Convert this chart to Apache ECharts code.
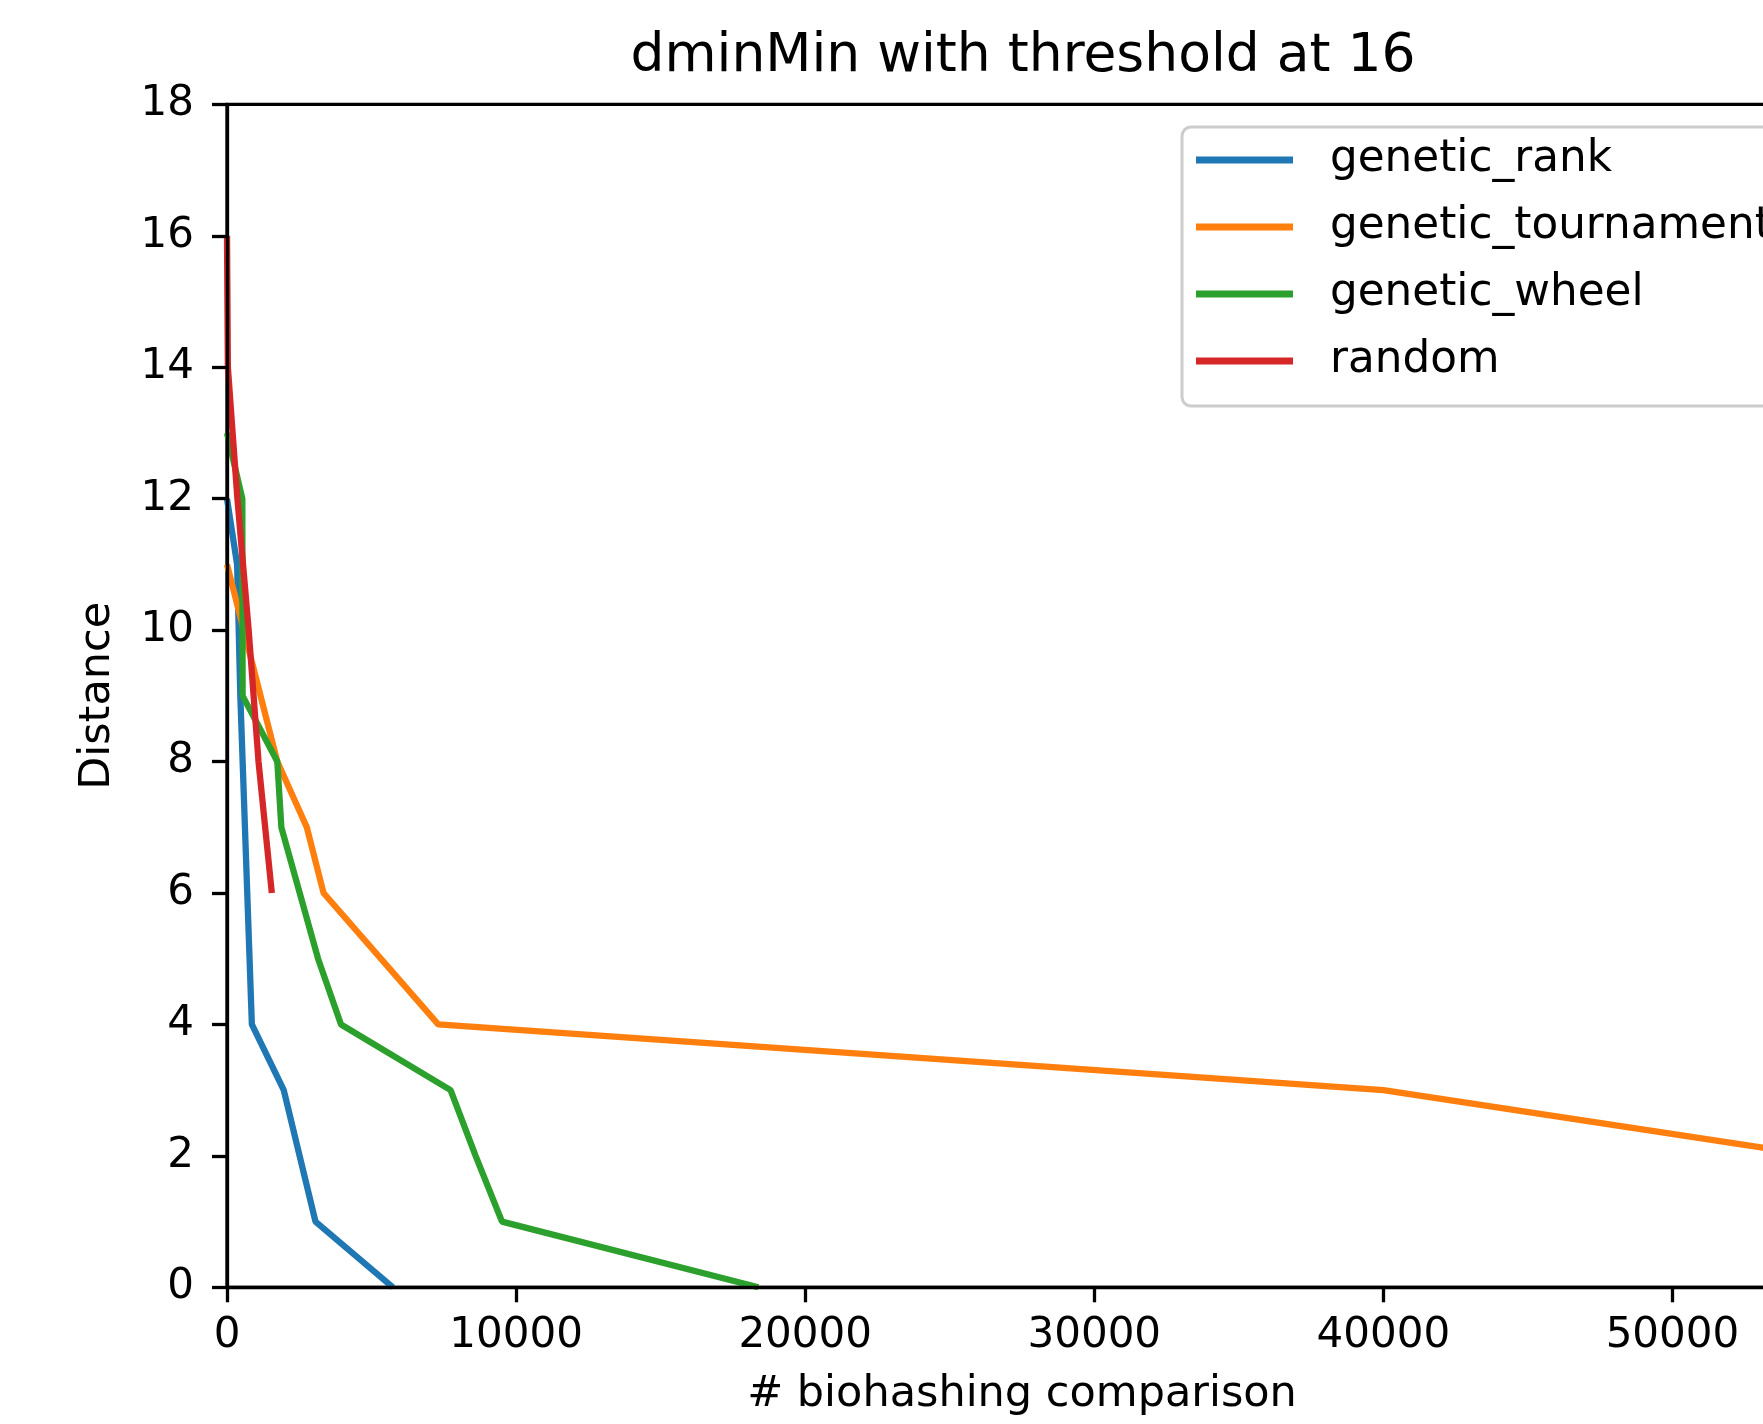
<!DOCTYPE html>
<html>
<head>
<meta charset="utf-8">
<script src="https://cdn.jsdelivr.net/npm/echarts@6/dist/echarts.min.js"></script>
<style>
html, body { margin: 0; padding: 0; background: #fff; overflow: hidden; width: 1763px; height: 1424px; }
#chart { width: 2046px; height: 1424px; }
</style>
</head>
<body>
<div id="chart"></div>
<script>
const titleText = 'dminMin with threshold at 16';
const xName = '# biohashing comparison';
const yName = 'Distance';
const seriesNames = ['genetic_rank', 'genetic_tournament', 'genetic_wheel', 'random'];
const seriesColors = ['#1f77b4', '#ff7f0e', '#2ca02c', '#d62728'];

const geneticRank = [[0, 12], [350, 11], [461, 9], [860, 4], [1964, 3], [3060, 1], [5740, 0]];
const geneticTournament = [[0, 11], [580, 10], [1160, 9], [1740, 8], [2760, 7], [3340, 6], [7306, 4], [40000, 3], [55000, 2]];
const geneticWheel = [[0, 13], [530, 12], [540, 9], [1740, 8], [1880, 7], [3150, 5], [3944, 4], [7734, 3], [8600, 2], [9513, 1], [18380, 0]];
const randomSearch = [[0, 16], [30, 14], [360, 12], [750, 10], [1090, 8], [1550, 6]];

const xMin = 0, xMax = 55000, xInterval = 10000;
const yMin = 0, yMax = 18, yInterval = 2;

const FONT = 'DejaVu Sans';
const allData = [geneticRank, geneticTournament, geneticWheel, randomSearch];

const chart = echarts.init(document.getElementById('chart'), null, { renderer: 'canvas' });
chart.setOption({
  animation: false,
  backgroundColor: '#ffffff',
  title: {
    text: titleText,
    left: 'center',
    top: 25,
    textStyle: { fontFamily: FONT, fontSize: 53.5, fontWeight: 'normal', color: '#000' }
  },
  grid: {
    left: 227, right: 229, top: 104.4, bottom: 136.7,
    show: true, borderColor: '#000', borderWidth: 3.3,
    outerBoundsMode: 'none', containLabel: false
  },
  legend: {
    data: seriesNames,
    orient: 'vertical',
    left: 1182, top: 127,
    icon: 'rect',
    itemWidth: 97, itemHeight: 7, itemGap: 23,
    padding: [11, 20, 23, 14],
    borderColor: '#cccccc', borderWidth: 3, borderRadius: 9,
    backgroundColor: 'rgba(255,255,255,0.8)',
    textStyle: { fontFamily: FONT, fontSize: 43.7, color: '#000', lineHeight: 44, padding: [0, 0, 0, 32] }
  },
  xAxis: {
    type: 'value', min: xMin, max: xMax, interval: xInterval, z: 5,
    name: xName, nameLocation: 'middle', nameGap: 86,
    nameTextStyle: { fontFamily: FONT, fontSize: 43, color: '#000' },
    axisLine: { show: true, lineStyle: { color: '#000', width: 3.3 } },
    axisTick: { show: true, inside: false, length: 15, lineStyle: { color: '#000', width: 3.3 } },
    axisLabel: { fontFamily: FONT, fontSize: 42, color: '#000', margin: 28, showMaxLabel: false,
      formatter: v => String(v) },
    splitLine: { show: false }
  },
  yAxis: {
    type: 'value', min: yMin, max: yMax, interval: yInterval, z: 5,
    name: yName, nameLocation: 'middle', nameGap: 108, nameRotate: 90,
    nameTextStyle: { fontFamily: FONT, fontSize: 43, color: '#000' },
    axisLine: { show: true, lineStyle: { color: '#000', width: 3.3 } },
    axisTick: { show: true, inside: false, length: 15, lineStyle: { color: '#000', width: 3.3 } },
    axisLabel: { fontFamily: FONT, fontSize: 42, color: '#000', margin: 33, formatter: v => String(v) },
    splitLine: { show: false }
  },
  series: seriesNames.map((n, i) => ({
    name: n,
    type: 'line',
    data: allData[i],
    showSymbol: false,
    symbol: 'none',
    color: seriesColors[i],
    lineStyle: { color: seriesColors[i], width: 6.3 },
    clip: true,
    z: 2
  }))
});
</script>
</body>
</html>
